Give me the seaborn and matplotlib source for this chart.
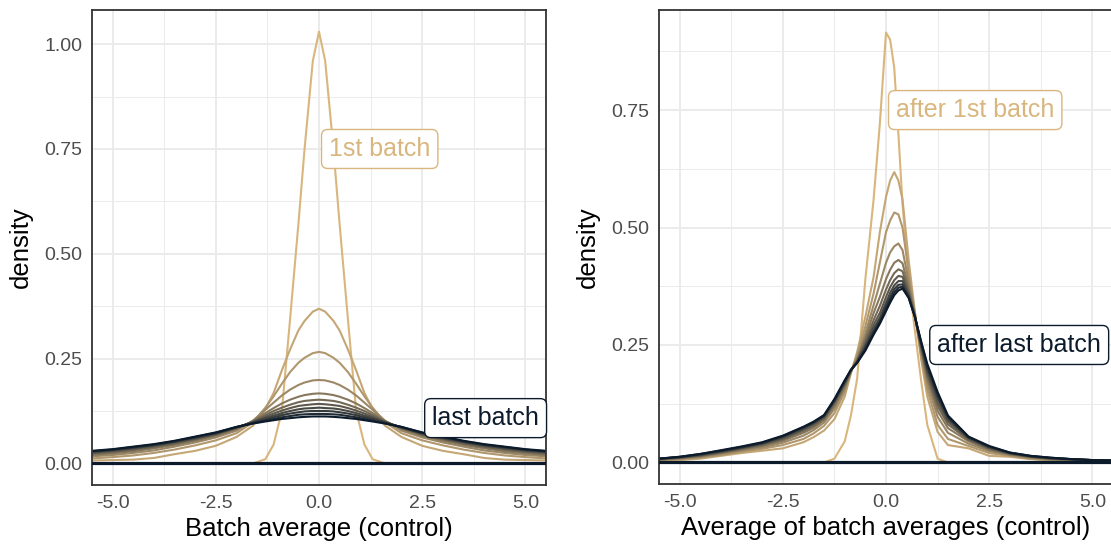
import numpy as np
import pandas as pd
import matplotlib
matplotlib.use("Agg")
import matplotlib.pyplot as plt
import seaborn as sns
from matplotlib.colors import LinearSegmentedColormap

# ---------------- data ----------------
# Left panel: density of batch averages; curves are symmetric around 0,
# values given on the half grid x >= 0 and mirrored.
left_xh = [0, 0.15, 0.35, 0.5, 0.7, 0.9, 1.1, 1.3, 1.6, 2.0, 2.5, 3.0, 3.5, 4.0, 4.5, 5.0, 5.5]
left_c1 = [1.03, 0.96, 0.75, 0.57, 0.345, 0.125, 0.045, 0.01, 0.0, 0, 0, 0, 0, 0, 0, 0, 0]
left_c2 = [0.369, 0.362, 0.34, 0.317, 0.272, 0.222, 0.168, 0.13, 0.09, 0.063, 0.042, 0.03, 0.022, 0.013, 0.009, 0.008, 0.007]
left_c3 = [0.266, 0.263, 0.252, 0.24, 0.218, 0.19, 0.16, 0.133, 0.098, 0.072, 0.055, 0.043, 0.033, 0.025, 0.019, 0.015, 0.012]
left_c4 = [0.199, 0.198, 0.193, 0.187, 0.176, 0.162, 0.145, 0.128, 0.102, 0.078, 0.062, 0.05, 0.04, 0.031, 0.025, 0.02, 0.017]
left_c5 = [0.167, 0.166, 0.163, 0.159, 0.152, 0.143, 0.132, 0.12, 0.101, 0.082, 0.066, 0.054, 0.044, 0.036, 0.029, 0.024, 0.02]
left_c6 = [0.152, 0.151, 0.149, 0.146, 0.14, 0.133, 0.125, 0.115, 0.1, 0.084, 0.068, 0.057, 0.047, 0.039, 0.032, 0.027, 0.023]
left_c7 = [0.142, 0.141, 0.139, 0.137, 0.132, 0.126, 0.119, 0.111, 0.099, 0.085, 0.07, 0.059, 0.049, 0.041, 0.035, 0.029, 0.025]
left_c8 = [0.133, 0.132, 0.131, 0.129, 0.125, 0.12, 0.114, 0.108, 0.098, 0.086, 0.071, 0.06, 0.051, 0.043, 0.036, 0.031, 0.027]
left_c9 = [0.125, 0.125, 0.124, 0.122, 0.119, 0.115, 0.11, 0.105, 0.097, 0.086, 0.072, 0.062, 0.052, 0.044, 0.038, 0.032, 0.028]
left_c10 = [0.118, 0.118, 0.117, 0.116, 0.113, 0.11, 0.106, 0.102, 0.096, 0.087, 0.073, 0.063, 0.053, 0.045, 0.039, 0.033, 0.029]
left_c11 = [0.112, 0.112, 0.111, 0.11, 0.108, 0.106, 0.103, 0.1, 0.095, 0.087, 0.074, 0.064, 0.054, 0.046, 0.04, 0.034, 0.03]

# Right panel: density of running average of batch averages (skewed)
right_x = [-5.5, -5, -4.5, -4, -3.5, -3, -2.5, -2, -1.75, -1.5, -1.25, -1.0, -0.85, -0.7, -0.5, -0.3, -0.15,
           0, 0.1, 0.2, 0.3, 0.4, 0.55, 0.7, 0.85, 1.0, 1.25, 1.5, 2.0, 2.5, 3.0, 3.5, 4.0, 4.5, 5.0, 5.5]
right_c1 = [0, 0, 0, 0, 0, 0, 0, 0, 0, 0, 0.008, 0.045, 0.1, 0.178, 0.39, 0.56, 0.72,
            0.915, 0.9, 0.84, 0.7, 0.55, 0.39, 0.28, 0.175, 0.08, 0.008, 0, 0, 0, 0, 0, 0, 0, 0, 0]
right_c2 = [0.004, 0.005, 0.008, 0.014, 0.02, 0.025, 0.03, 0.043, 0.054, 0.068, 0.092, 0.14, 0.19, 0.235, 0.31, 0.395, 0.49,
            0.565, 0.6, 0.618, 0.6, 0.56, 0.43, 0.32, 0.22, 0.14, 0.065, 0.037, 0.03, 0.014, 0.012, 0.007, 0.004, 0.003, 0.002, 0.001]
right_c3 = [0.005, 0.007, 0.01, 0.016, 0.023, 0.029, 0.037, 0.05, 0.062, 0.078, 0.105, 0.15, 0.192, 0.228, 0.29, 0.36, 0.425,
            0.49, 0.515, 0.532, 0.528, 0.5, 0.405, 0.318, 0.228, 0.155, 0.08, 0.05, 0.035, 0.02, 0.014, 0.008, 0.005, 0.004, 0.003, 0.002]
right_c4 = [0.006, 0.008, 0.012, 0.018, 0.025, 0.032, 0.042, 0.057, 0.069, 0.085, 0.114, 0.157, 0.193, 0.222, 0.275, 0.335, 0.38,
            0.425, 0.447, 0.46, 0.466, 0.452, 0.385, 0.315, 0.235, 0.168, 0.097, 0.063, 0.04, 0.024, 0.016, 0.01, 0.006, 0.005, 0.004, 0.003]
right_c5 = [0.006, 0.009, 0.013, 0.02, 0.027, 0.035, 0.046, 0.063, 0.074, 0.09, 0.12, 0.161, 0.194, 0.219, 0.265, 0.318, 0.352,
            0.39, 0.41, 0.425, 0.431, 0.424, 0.373, 0.313, 0.24, 0.178, 0.11, 0.073, 0.045, 0.027, 0.017, 0.011, 0.007, 0.005, 0.004, 0.003]
right_c6 = [0.007, 0.01, 0.014, 0.021, 0.029, 0.037, 0.049, 0.067, 0.078, 0.093, 0.125, 0.165, 0.195, 0.217, 0.258, 0.303, 0.333,
            0.368, 0.388, 0.403, 0.411, 0.407, 0.365, 0.312, 0.244, 0.185, 0.12, 0.081, 0.048, 0.029, 0.018, 0.012, 0.008, 0.006, 0.004, 0.003]
right_c7 = [0.007, 0.01, 0.015, 0.022, 0.03, 0.039, 0.051, 0.07, 0.081, 0.096, 0.128, 0.168, 0.196, 0.215, 0.252, 0.293, 0.318,
            0.352, 0.373, 0.388, 0.397, 0.395, 0.36, 0.311, 0.248, 0.19, 0.128, 0.087, 0.05, 0.031, 0.019, 0.012, 0.008, 0.006, 0.005, 0.004]
right_c8 = [0.008, 0.011, 0.016, 0.023, 0.031, 0.04, 0.053, 0.072, 0.083, 0.098, 0.13, 0.17, 0.196, 0.214, 0.248, 0.285, 0.308,
            0.34, 0.361, 0.377, 0.386, 0.386, 0.356, 0.31, 0.251, 0.196, 0.136, 0.092, 0.052, 0.032, 0.02, 0.013, 0.009, 0.007, 0.005, 0.004]
right_c9 = [0.008, 0.011, 0.017, 0.024, 0.032, 0.041, 0.055, 0.074, 0.085, 0.099, 0.132, 0.172, 0.197, 0.213, 0.244, 0.279, 0.302,
            0.333, 0.352, 0.369, 0.378, 0.379, 0.353, 0.31, 0.254, 0.201, 0.141, 0.095, 0.053, 0.033, 0.02, 0.013, 0.009, 0.007, 0.005, 0.004]
right_c10 = [0.008, 0.012, 0.018, 0.025, 0.033, 0.042, 0.056, 0.075, 0.086, 0.1, 0.133, 0.173, 0.197, 0.212, 0.241, 0.275, 0.298,
             0.327, 0.346, 0.362, 0.372, 0.374, 0.351, 0.31, 0.256, 0.205, 0.146, 0.098, 0.054, 0.034, 0.021, 0.014, 0.01, 0.007, 0.005, 0.004]
right_c11 = [0.008, 0.012, 0.018, 0.026, 0.034, 0.043, 0.057, 0.076, 0.087, 0.101, 0.135, 0.175, 0.197, 0.212, 0.238, 0.272, 0.295,
             0.322, 0.34, 0.356, 0.366, 0.37, 0.35, 0.31, 0.258, 0.21, 0.15, 0.1, 0.055, 0.035, 0.021, 0.014, 0.01, 0.007, 0.005, 0.004]

left_curves = [left_c1, left_c2, left_c3, left_c4, left_c5, left_c6, left_c7, left_c8, left_c9, left_c10, left_c11]
right_curves = [right_c1, right_c2, right_c3, right_c4, right_c5, right_c6, right_c7, right_c8, right_c9, right_c10, right_c11]

left_title = "Batch average (control)"
right_title = "Average of batch averages (control)"
y_label = "density"
x_ticks = [-5.0, -2.5, 0.0, 2.5, 5.0]
left_yticks = [0.0, 0.25, 0.5, 0.75, 1.0]
right_yticks = [0.0, 0.25, 0.5, 0.75]
left_labels = ("1st batch", "last batch")
right_labels = ("after 1st batch", "after last batch")

# ---------------- build long-form tables ----------------
def mirror(xh, yh):
    xs = [-v for v in xh[:0:-1]] + list(xh)
    ys = list(yh[:0:-1]) + list(yh)
    return xs, ys

rows = []
for i, yh in enumerate(left_curves):
    xs, ys = mirror(left_xh, yh)
    for a, b in zip(xs, ys):
        rows.append((i, a, b))
df_left = pd.DataFrame(rows, columns=["batch", "x", "density"])

rows = []
for i, ys in enumerate(right_curves):
    for a, b in zip(right_x, ys):
        rows.append((i, a, b))
df_right = pd.DataFrame(rows, columns=["batch", "x", "density"])

# ---------------- style ----------------
sns.set_style("white")
plt.rcParams["font.family"] = ["Liberation Sans", "DejaVu Sans"]

tan = "#D9B67E"
navy = "#0C1B2B"
cmap = LinearSegmentedColormap.from_list("batch", [tan, navy])
n = len(left_curves)
palette = [cmap(i / (n - 1)) for i in range(n)]

W, H = 1111, 546
fig = plt.figure(figsize=(W / 100, H / 100), dpi=100)
ax1 = fig.add_axes([92 / W, (H - 485) / H, 454 / W, 475 / H])
ax2 = fig.add_axes([659 / W, (H - 484) / H, 454 / W, 474 / H])

grid_col = "#EBEBEB"


def style_axes(ax, yticks, ylim):
    ax.set_xticks(x_ticks)
    ax.set_xticklabels([f"{v:.1f}" for v in x_ticks])
    ax.set_yticks(yticks)
    ax.set_yticklabels([f"{v:.2f}" for v in yticks])
    ax.set_xticks([-6.25, -3.75, -1.25, 1.25, 3.75, 6.25], minor=True)
    ax.set_yticks([v + 0.125 for v in yticks], minor=True)
    ax.set_xlim(-5.5, 5.5)
    ax.set_ylim(*ylim)
    ax.grid(True, which="major", color=grid_col, lw=1.4, zorder=0)
    ax.grid(True, which="minor", color=grid_col, lw=0.7, zorder=0)
    ax.set_axisbelow(True)
    ax.tick_params(which="both", length=0, labelsize=14, labelcolor="#4D4D4D", pad=7)
    for s in ax.spines.values():
        s.set_color("#333333")
        s.set_linewidth(1.3)
    ax.set_ylabel(y_label, fontsize=18.5, color="black", labelpad=8)


for ax, df in ((ax1, df_left), (ax2, df_right)):
    sns.lineplot(data=df, x="x", y="density", hue="batch", palette=palette,
                 legend=False, ax=ax, lw=1.5, estimator=None, sort=False)
    ax.axhline(0, color=navy, lw=2.3, zorder=3)

style_axes(ax1, left_yticks, (-0.0515, 1.0815))
style_axes(ax2, right_yticks, (-0.0459, 0.963))
ax1.set_xlabel(left_title, fontsize=18.5, color="black", labelpad=4)
ax2.set_xlabel(right_title, fontsize=18.5, color="black", labelpad=4)


def label(ax, x, y, text, color):
    fs = 18
    ax.annotate(text, xy=(x, y), xytext=(0.4 * fs, 0), textcoords="offset points",
                ha="left", va="center", fontsize=fs, color=color, zorder=5,
                bbox=dict(boxstyle="round,pad=0.3,rounding_size=0.25", fc="white",
                          ec=color, lw=1.0))


label(ax1, 0.0, 0.75, left_labels[0], palette[0])
label(ax1, 2.5, 0.108, left_labels[1], palette[-1])
label(ax2, 0.0, 0.75, right_labels[0], palette[0])
label(ax2, 1.0, 0.25, right_labels[1], palette[-1])

fig.savefig("out.png", dpi=100)
